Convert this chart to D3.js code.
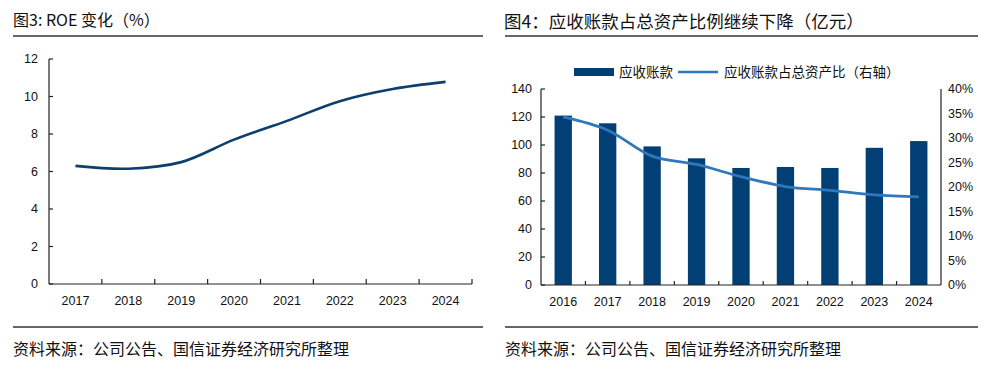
<!DOCTYPE html>
<html>
<head>
<meta charset="utf-8">
<script src="https://d3js.org/d3.v7.min.js"></script>
<style>
  body { margin: 0; background: #fff; }
  .title { font-family: "Noto Sans CJK SC", sans-serif; fill: #111; }
  .tick-label { font-family: "Liberation Sans", Arial, sans-serif; font-size: 12.5px; fill: #111; }
  .axis-line { stroke: #222; stroke-width: 1.2px; fill: none; }
  .rule { stroke: #333; stroke-width: 1.5px; }
  .source { font-family: "Noto Sans CJK SC", sans-serif; font-size: 16px; fill: #111; }
  .legend { font-family: "Noto Sans CJK SC", sans-serif; font-size: 13.5px; fill: #111; }
</style>
</head>
<body>
<svg id="chart" width="987" height="373"></svg>
<script>
// ROE chart data
const roeYears = ["2017", "2018", "2019", "2020", "2021", "2022", "2023", "2024"];
const roeValues = [6.3, 6.15, 6.5, 7.7, 8.7, 9.75, 10.4, 10.78];
const roeTicks = [0, 2, 4, 6, 8, 10, 12];

// receivables chart data
const arYears = ["2016", "2017", "2018", "2019", "2020", "2021", "2022", "2023", "2024"];
const arValues = [121, 115.5, 99, 90.5, 83.6, 84.3, 83.6, 98, 102.8];
const arShare = [0.343, 0.316, 0.263, 0.246, 0.221, 0.201, 0.193, 0.184, 0.180];
const arTicks = [0, 20, 40, 60, 80, 100, 120, 140];
const shareTicks = [0, 0.05, 0.1, 0.15, 0.2, 0.25, 0.3, 0.35, 0.4];

const svg = d3.select("#chart");

// ---- left panel ----
svg.append("text").attr("class", "title")
  .attr("x", 13).attr("y", 26).attr("font-size", 16)
  .text("图3: ROE 变化（%）");
svg.append("line").attr("class", "rule").attr("x1", 13).attr("x2", 483).attr("y1", 36).attr("y2", 36);

const x1 = d3.scaleBand().domain(roeYears).range([49, 472]);
const y1 = d3.scaleLinear().domain([0, 12]).range([284, 59]);

const g1 = svg.append("g");
g1.append("line").attr("class", "axis-line").attr("x1", 49).attr("x2", 49).attr("y1", y1(12)).attr("y2", y1(0));
g1.append("line").attr("class", "axis-line").attr("x1", 49).attr("x2", 472).attr("y1", y1(0)).attr("y2", y1(0));
g1.selectAll(".yt").data(roeTicks).join("line").attr("class", "axis-line")
  .attr("x1", 49).attr("x2", 53).attr("y1", d => y1(d)).attr("y2", d => y1(d));
g1.selectAll(".yl").data(roeTicks).join("text").attr("class", "tick-label")
  .attr("x", 38).attr("y", d => y1(d)).attr("dy", "0.35em").attr("text-anchor", "end")
  .text(d => d);
g1.selectAll(".xt").data(roeYears.slice(1).concat(["end"])).join("line").attr("class", "axis-line")
  .attr("x1", (d, i) => 49 + (i + 1) * x1.bandwidth()).attr("x2", (d, i) => 49 + (i + 1) * x1.bandwidth())
  .attr("y1", y1(0)).attr("y2", y1(0) - 5);
g1.selectAll(".xl").data(roeYears).join("text").attr("class", "tick-label")
  .attr("x", d => x1(d) + x1.bandwidth() / 2).attr("y", 305).attr("text-anchor", "middle")
  .text(d => d);

const roeLine = d3.line()
  .x((d, i) => x1(roeYears[i]) + x1.bandwidth() / 2)
  .y(d => y1(d))
  .curve(d3.curveCatmullRom.alpha(0.5));
g1.append("path").datum(roeValues).attr("d", roeLine)
  .attr("fill", "none").attr("stroke", "#0d3f6e").attr("stroke-width", 2.6);

// ---- right panel ----
svg.append("text").attr("class", "title")
  .attr("x", 504).attr("y", 28).attr("font-size", 17.5)
  .text("图4：应收账款占总资产比例继续下降（亿元）");
svg.append("line").attr("class", "rule").attr("x1", 505).attr("x2", 978).attr("y1", 36).attr("y2", 36);

const x2 = d3.scaleBand().domain(arYears).range([541, 941]);
const y2 = d3.scaleLinear().domain([0, 140]).range([285, 89]);
const y3 = d3.scaleLinear().domain([0, 0.4]).range([285, 89]);

const g2 = svg.append("g");
const barW = x2.bandwidth() * 0.39;
g2.selectAll(".bar").data(arValues).join("rect")
  .attr("x", (d, i) => x2(arYears[i]) + (x2.bandwidth() - barW) / 2)
  .attr("y", d => y2(d)).attr("width", barW).attr("height", d => y2(0) - y2(d))
  .attr("fill", "#023f74");

g2.append("line").attr("class", "axis-line").attr("x1", 541).attr("x2", 541).attr("y1", y2(140)).attr("y2", y2(0));
g2.append("line").attr("class", "axis-line").attr("x1", 941).attr("x2", 941).attr("y1", y2(140)).attr("y2", y2(0)).attr("stroke", "#888");
g2.append("line").attr("class", "axis-line").attr("x1", 541).attr("x2", 941).attr("y1", y2(0)).attr("y2", y2(0));
g2.selectAll(".yt").data(arTicks).join("line").attr("class", "axis-line")
  .attr("x1", 541).attr("x2", 545).attr("y1", d => y2(d)).attr("y2", d => y2(d));
g2.selectAll(".yl").data(arTicks).join("text").attr("class", "tick-label")
  .attr("x", 532).attr("y", d => y2(d)).attr("dy", "0.35em").attr("text-anchor", "end")
  .text(d => d);
g2.selectAll(".rl").data(shareTicks).join("text").attr("class", "tick-label")
  .attr("x", 948).attr("y", d => y3(d)).attr("dy", "0.35em").attr("text-anchor", "start")
  .text(d => Math.round(d * 100) + "%");
g2.selectAll(".xt").data(arYears.slice(1)).join("line").attr("class", "axis-line")
  .attr("x1", d => x2(d)).attr("x2", d => x2(d))
  .attr("y1", y2(0)).attr("y2", y2(0) - 4);
g2.selectAll(".xl").data(arYears).join("text").attr("class", "tick-label")
  .attr("x", d => x2(d) + x2.bandwidth() / 2).attr("y", 306).attr("text-anchor", "middle")
  .text(d => d);

const shareLine = d3.line()
  .x((d, i) => x2(arYears[i]) + x2.bandwidth() / 2)
  .y(d => y3(d))
  .curve(d3.curveCatmullRom.alpha(0.5));
g2.append("path").datum(arShare).attr("d", shareLine)
  .attr("fill", "none").attr("stroke", "#2f78bd").attr("stroke-width", 2.8);

// legend
const lg = svg.append("g");
lg.append("rect").attr("x", 574).attr("y", 68).attr("width", 40).attr("height", 8).attr("fill", "#023f74");
lg.append("text").attr("class", "legend").attr("x", 619).attr("y", 72).attr("dy", "0.35em").text("应收账款");
lg.append("line").attr("x1", 678).attr("x2", 718).attr("y1", 72).attr("y2", 72).attr("stroke", "#2f78bd").attr("stroke-width", 2.5);
lg.append("text").attr("class", "legend").attr("x", 724).attr("y", 72).attr("dy", "0.35em").text("应收账款占总资产比（右轴）");

// footers
svg.append("line").attr("class", "rule").attr("x1", 13).attr("x2", 483).attr("y1", 327).attr("y2", 327);
svg.append("line").attr("class", "rule").attr("x1", 505).attr("x2", 978).attr("y1", 327).attr("y2", 327);
svg.append("text").attr("class", "source").attr("x", 13).attr("y", 355).text("资料来源：公司公告、国信证券经济研究所整理");
svg.append("text").attr("class", "source").attr("x", 505).attr("y", 355).text("资料来源：公司公告、国信证券经济研究所整理");
</script>
</body>
</html>
